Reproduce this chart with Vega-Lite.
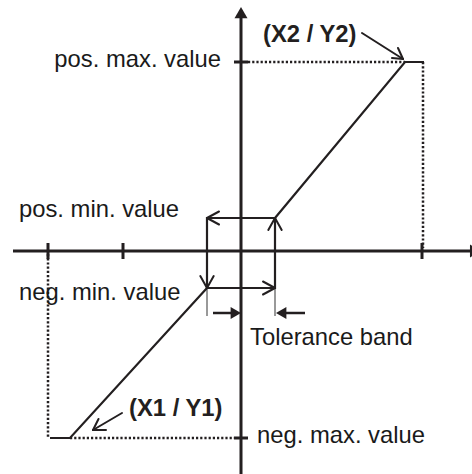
{
  "$schema": "https://vega.github.io/schema/vega-lite/v6.json",
  "width": 472,
  "height": 474,
  "padding": 0,
  "autosize": {"type": "none"},
  "background": "white",
  "config": {"view": {"stroke": null}},
  "datasets": {
    "segs": [
      {"x": -228, "y": 0, "x2": 230, "y2": 0, "kind": "axis"},
      {"x": 0, "y": -223, "x2": 0, "y2": 233, "kind": "axis"},
      {"x": -193, "y": -8, "x2": -193, "y2": 8, "kind": "tick"},
      {"x": -118, "y": -8, "x2": -118, "y2": 8, "kind": "tick"},
      {"x": 181, "y": -8, "x2": 181, "y2": 8, "kind": "tick"},
      {"x": -7, "y": 189, "x2": 7, "y2": 189, "kind": "tick"},
      {"x": -7, "y": -187, "x2": 7, "y2": -187, "kind": "tick"},
      {"x": 7, "y": 189, "x2": 164, "y2": 189, "kind": "dot"},
      {"x": 182, "y": 189, "x2": 182, "y2": 3, "kind": "dot"},
      {"x": -193, "y": -3, "x2": -193, "y2": -187, "kind": "dot"},
      {"x": -171, "y": -187, "x2": -7, "y2": -187, "kind": "dot"},
      {"x": -34, "y": -37, "x2": -34, "y2": -65, "kind": "ext"},
      {"x": 34, "y": -37, "x2": 34, "y2": -65, "kind": "ext"},
      {"x": -34, "y": 33, "x2": -22, "y2": 39.5, "kind": "arrow"},
      {"x": -34, "y": 33, "x2": -22, "y2": 26.5, "kind": "arrow"},
      {"x": 34, "y": 33, "x2": 27.3, "y2": 21, "kind": "arrow"},
      {"x": 34, "y": 33, "x2": 40.7, "y2": 21, "kind": "arrow"},
      {"x": -34, "y": -37, "x2": -40.7, "y2": -25, "kind": "arrow"},
      {"x": -34, "y": -37, "x2": -27.3, "y2": -25, "kind": "arrow"},
      {"x": 34, "y": -37, "x2": 22, "y2": -30.5, "kind": "arrow"},
      {"x": 34, "y": -37, "x2": 22, "y2": -43.5, "kind": "arrow"},
      {"x": 121, "y": 218, "x2": 162, "y2": 192, "kind": "arrow"},
      {"x": 162, "y": 192, "x2": 157, "y2": 203, "kind": "arrow"},
      {"x": 162, "y": 192, "x2": 151, "y2": 193, "kind": "arrow"},
      {"x": -119, "y": -162, "x2": -148, "y2": -179, "kind": "arrow"},
      {"x": -148, "y": -179, "x2": -135, "y2": -179, "kind": "arrow"},
      {"x": -148, "y": -179, "x2": -142.5, "y2": -168, "kind": "arrow"},
      {"x": -28, "y": -62, "x2": -9, "y2": -62, "kind": "tol"},
      {"x": 64, "y": -62, "x2": 43, "y2": -62, "kind": "tol"}
    ],
    "paths": [
      {"x": 34, "y": 33, "g": "up", "i": 0},
      {"x": 164, "y": 189, "g": "up", "i": 1},
      {"x": 183, "y": 189, "g": "up", "i": 2},
      {"x": -34, "y": -37, "g": "low", "i": 0},
      {"x": -171, "y": -187, "g": "low", "i": 1},
      {"x": -191, "y": -187, "g": "low", "i": 2},
      {"x": 34, "y": 33, "g": "box", "i": 0},
      {"x": -34, "y": 33, "g": "box", "i": 1},
      {"x": -34, "y": -37, "g": "box", "i": 2},
      {"x": 34, "y": -37, "g": "box", "i": 3},
      {"x": 34, "y": 33, "g": "box", "i": 4}
    ],
    "heads": [
      {"x": 0, "y": 238.4, "dir": "up"},
      {"x": 234.6, "y": 0, "dir": "axisright"},
      {"x": -5.2, "y": -62, "dir": "right"},
      {"x": 40.2, "y": -62, "dir": "left"}
    ],
    "labels": [
      {"x": -20, "y": 184, "t": "pos. max. value", "kind": "r"},
      {"x": -222, "y": 34, "t": "pos. min. value", "kind": "l"},
      {"x": -222, "y": -49, "t": "neg. min. value", "kind": "l"},
      {"x": 9, "y": -94, "t": "Tolerance band", "kind": "l"},
      {"x": 16, "y": -192, "t": "neg. max. value", "kind": "l"},
      {"x": 22, "y": 209, "t": "(X2 / Y2)", "kind": "b"},
      {"x": -112, "y": -165, "t": "(X1 / Y1)", "kind": "b"}
    ]
  },
  "encoding": {
    "x": {"field": "x", "type": "quantitative", "axis": null, "scale": {"domain": [-241, 231], "nice": false, "zero": false}},
    "y": {"field": "y", "type": "quantitative", "axis": null, "scale": {"domain": [-223, 251], "nice": false, "zero": false}}
  },
  "layer": [
    {
      "data": {"name": "segs"},
      "transform": [{"filter": "datum.kind === 'dot'"}],
      "mark": {"type": "rule", "color": "#231f20", "strokeWidth": 2.5, "strokeDash": [2.2, 2]},
      "encoding": {"x2": {"field": "x2"}, "y2": {"field": "y2"}}
    },
    {
      "data": {"name": "segs"},
      "transform": [{"filter": "datum.kind === 'ext'"}],
      "mark": {"type": "rule", "color": "#555555", "strokeWidth": 1.2},
      "encoding": {"x2": {"field": "x2"}, "y2": {"field": "y2"}}
    },
    {
      "data": {"name": "segs"},
      "transform": [{"filter": "datum.kind === 'axis' || datum.kind === 'tick'"}],
      "mark": {"type": "rule", "color": "#231f20", "strokeWidth": 3},
      "encoding": {"x2": {"field": "x2"}, "y2": {"field": "y2"}}
    },
    {
      "data": {"name": "segs"},
      "transform": [{"filter": "datum.kind === 'arrow'"}],
      "mark": {"type": "rule", "color": "#231f20", "strokeWidth": 2, "strokeCap": "round"},
      "encoding": {"x2": {"field": "x2"}, "y2": {"field": "y2"}}
    },
    {
      "data": {"name": "segs"},
      "transform": [{"filter": "datum.kind === 'tol'"}],
      "mark": {"type": "rule", "color": "#231f20", "strokeWidth": 2.5},
      "encoding": {"x2": {"field": "x2"}, "y2": {"field": "y2"}}
    },
    {
      "data": {"name": "paths"},
      "mark": {"type": "line", "color": "#231f20", "strokeWidth": 2.2, "strokeJoin": "miter"},
      "encoding": {"detail": {"field": "g"}, "order": {"field": "i", "type": "quantitative"}}
    },
    {
      "data": {"name": "heads"},
      "transform": [{"filter": "datum.dir === 'up'"}],
      "mark": {"type": "point", "shape": "triangle-up", "filled": true, "color": "#231f20", "opacity": 1, "size": 169}
    },
    {
      "data": {"name": "heads"},
      "transform": [{"filter": "datum.dir === 'axisright'"}],
      "mark": {"type": "point", "shape": "triangle-right", "filled": true, "color": "#231f20", "opacity": 1, "size": 169}
    },
    {
      "data": {"name": "heads"},
      "transform": [{"filter": "datum.dir === 'right'"}],
      "mark": {"type": "point", "shape": "triangle-right", "filled": true, "color": "#231f20", "opacity": 1, "size": 144}
    },
    {
      "data": {"name": "heads"},
      "transform": [{"filter": "datum.dir === 'left'"}],
      "mark": {"type": "point", "shape": "triangle-left", "filled": true, "color": "#231f20", "opacity": 1, "size": 144}
    },
    {
      "data": {"name": "labels"},
      "transform": [{"filter": "datum.kind === 'r'"}],
      "mark": {"type": "text", "align": "right", "baseline": "alphabetic", "font": "Liberation Sans", "fontSize": 23.8, "color": "#1a1a1a"},
      "encoding": {"text": {"field": "t"}}
    },
    {
      "data": {"name": "labels"},
      "transform": [{"filter": "datum.kind === 'l'"}],
      "mark": {"type": "text", "align": "left", "baseline": "alphabetic", "font": "Liberation Sans", "fontSize": 23.8, "color": "#1a1a1a"},
      "encoding": {"text": {"field": "t"}}
    },
    {
      "data": {"name": "labels"},
      "transform": [{"filter": "datum.kind === 'b'"}],
      "mark": {"type": "text", "align": "left", "baseline": "alphabetic", "font": "Liberation Sans", "fontSize": 23.8, "fontWeight": "bold", "color": "#231f20"},
      "encoding": {"text": {"field": "t"}}
    }
  ]
}
